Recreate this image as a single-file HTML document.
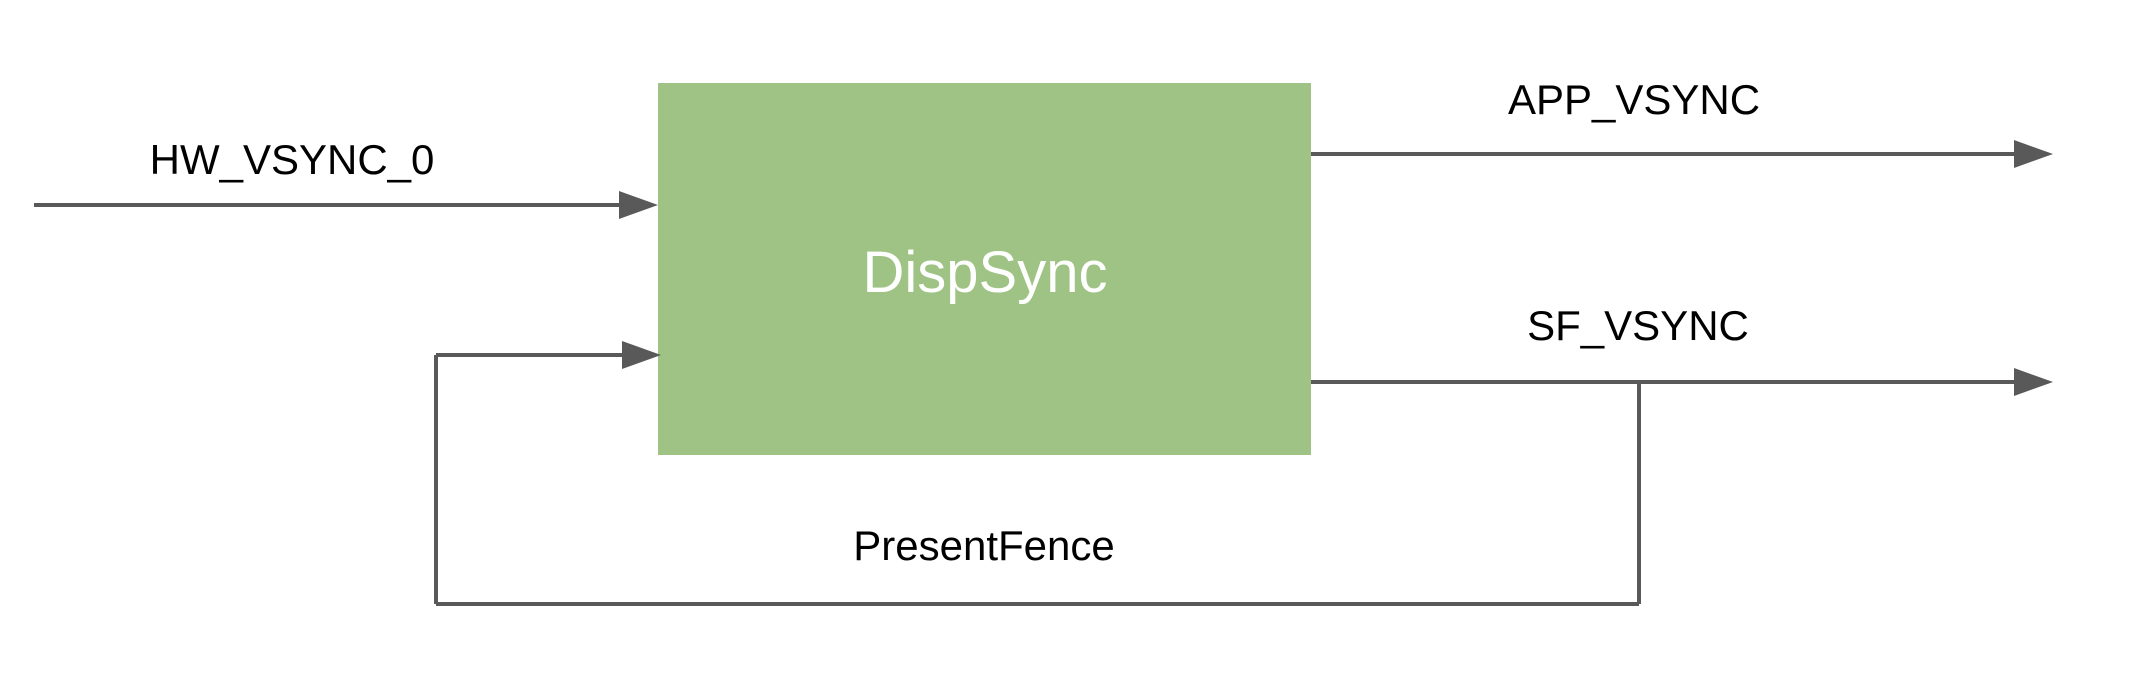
<!DOCTYPE html>
<html><head><style>body{margin:0;background:#fff}</style></head><body>
<svg width="2142" height="674" xmlns="http://www.w3.org/2000/svg" style="display:block">
<rect width="2142" height="674" fill="#fff"/>
<rect x="658" y="83" width="653" height="372" fill="#9fc385"/>
<g stroke="#595959" stroke-width="4" fill="none">
<line x1="34" y1="205" x2="622" y2="205"/>
<line x1="436" y1="355" x2="625" y2="355"/>
<line x1="1311" y1="154" x2="2018" y2="154"/>
<line x1="1311" y1="382" x2="2018" y2="382"/>
<line x1="1639" y1="382" x2="1639" y2="604"/>
<line x1="436" y1="604" x2="1639" y2="604"/>
<line x1="436" y1="355" x2="436" y2="604"/>
</g>
<g fill="#595959">
<polygon points="619,191 658,205 619,219"/>
<polygon points="622,341 661,355 622,369"/>
<polygon points="2014,140 2053,154 2014,168"/>
<polygon points="2014,368 2053,382 2014,396"/>
</g>
<g font-family="Liberation Sans, sans-serif" font-size="42" text-anchor="middle" fill="#000">
<text x="292" y="174">HW_VSYNC_0</text>
<text x="1634" y="114">APP_VSYNC</text>
<text x="1638" y="340">SF_VSYNC</text>
<text x="984" y="560">PresentFence</text>
<text x="985" y="292" font-size="58" fill="#fff">DispSync</text>
</g>
</svg>
</body></html>
